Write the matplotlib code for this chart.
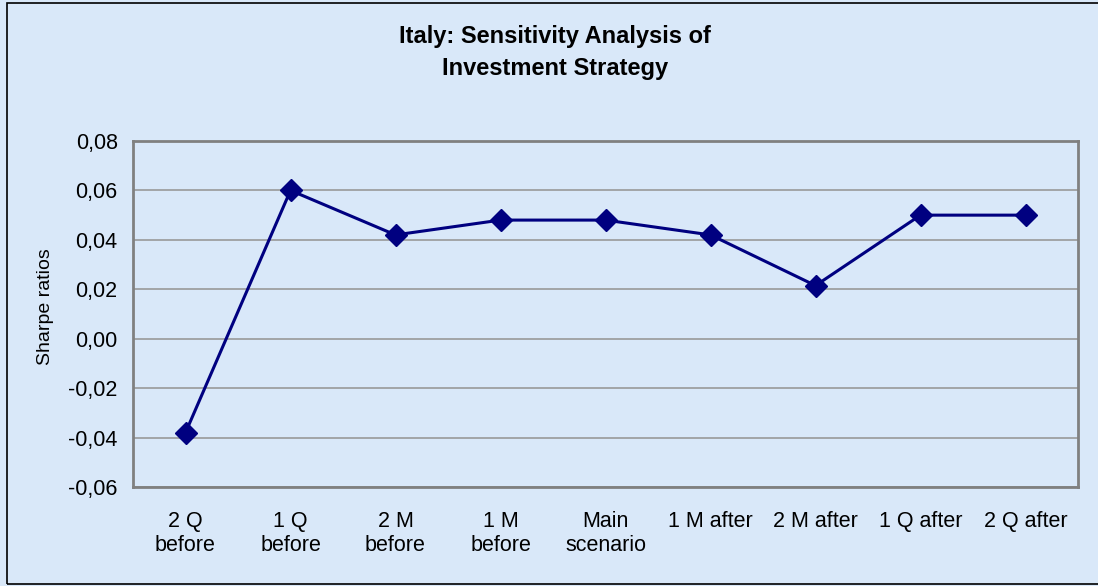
import matplotlib.pyplot as plt
from matplotlib.patches import Rectangle
from matplotlib.ticker import FuncFormatter

scenarios = ["2 Q\nbefore", "1 Q\nbefore", "2 M\nbefore", "1 M\nbefore", "Main\nscenario",
             "1 M after", "2 M after", "1 Q after", "2 Q after"]
sharpe = [-0.038, 0.060, 0.042, 0.048, 0.048, 0.042, 0.0215, 0.050, 0.050]

plt.rcParams['font.family'] = ['Liberation Sans', 'DejaVu Sans']

W, H = 1098, 586
fig = plt.figure(figsize=(W / 100, H / 100), dpi=100)
bg = '#d9e8f9'
fig.patch.set_facecolor(bg)

# outer chart border
fig.patches.append(Rectangle((7 / W, 1 - 584 / H), (W + 5 - 7) / W, (584 - 3) / H,
                             transform=fig.transFigure, fill=False,
                             edgecolor='black', linewidth=1.2))

ax = fig.add_axes([133 / W, 1 - 487 / H, (1078 - 133) / W, (487 - 141) / H])
ax.set_facecolor(bg)

x = range(len(scenarios))
ax.plot(x, sharpe, color='#000080', linewidth=2.2, marker='D', markersize=11,
        markerfacecolor='#000080', markeredgecolor='#000080', zorder=3)

ax.set_xlim(-0.5, len(scenarios) - 0.5)
ax.set_ylim(-0.06, 0.08)
ax.set_yticks([-0.06, -0.04, -0.02, 0.0, 0.02, 0.04, 0.06, 0.08])
ax.yaxis.set_major_formatter(FuncFormatter(lambda v, p: f"{v:.2f}".replace('.', ',')))
ax.set_xticks(list(x))
ax.set_xticklabels(scenarios, fontsize=15.5, linespacing=1.2, va='top')
ax.tick_params(axis='y', labelsize=15.5, length=0, pad=11)
ax.tick_params(axis='x', length=0, pad=17)
ax.yaxis.grid(True, color='#999999', linewidth=1.2)
ax.set_axisbelow(True)
for s in ax.spines.values():
    s.set_color('#808080')
    s.set_linewidth(2)

ax.set_ylabel('Sharpe ratios', fontsize=14)
ax.yaxis.set_label_coords(-0.084, 0.52)

fig.text(555 / W, 1 - 36 / H, 'Italy: Sensitivity Analysis of', ha='center', va='center',
         fontsize=17, fontweight='bold')
fig.text(555 / W, 1 - 68 / H, 'Investment Strategy', ha='center', va='center',
         fontsize=17, fontweight='bold')

fig.savefig('out.png', dpi=100, facecolor=bg)
